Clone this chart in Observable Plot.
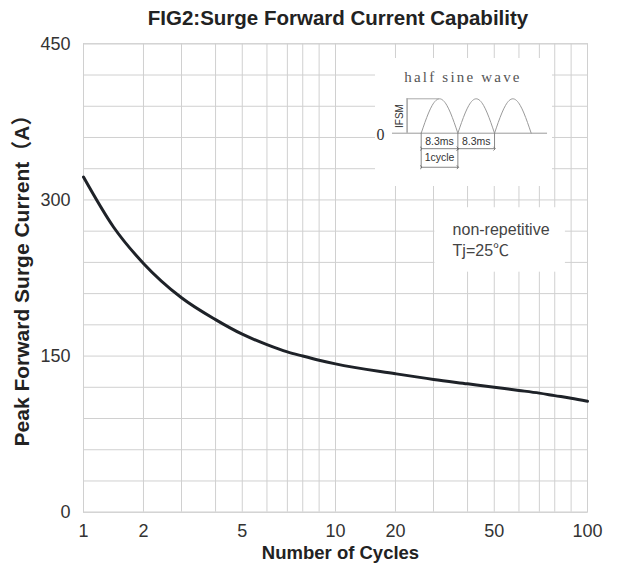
<!DOCTYPE html>
<html><head><meta charset="utf-8">
<script src="https://cdn.jsdelivr.net/npm/d3@7"></script>
<script src="https://cdn.jsdelivr.net/npm/@observablehq/plot@0.6"></script>
<style>
body{margin:0;background:#fff;}
#wrap{position:relative;width:626px;height:567px;font-family:"Liberation Sans",Arial,sans-serif;}
#title{height:34px;line-height:36px;font-size:20.5px;font-weight:bold;color:#222;text-align:center;padding-left:50px;box-sizing:border-box;white-space:nowrap;}
#inset{position:absolute;left:375px;top:58px;}
</style></head><body>
<div id="wrap"><div id="title"></div><div id="chart"></div><div id="inset"></div></div>
<script>
// ---- text ----
const titleText = "FIG2:Surge Forward Current Capability";
const xLabel = "Number of Cycles";
const yLabel = "Peak Forward Surge Current（A）";
const noteLines = ["non-repetitive", "Tj=25℃"];
const insetTitle = "half sine wave";

// ---- curve ----
const cycles  = [1, 1.5, 2, 3, 4, 5, 6, 7, 8, 9, 10, 20, 30, 40, 50, 60, 70, 80, 90, 100];
const current = [322, 274, 239, 206, 185, 171, 161, 154, 150, 146, 142.5, 133, 127.5, 123.3, 120, 117, 114.4, 112, 109.5, 106.6];

// ---- axes ----
const xTickLabels = [1, 2, 5, 10, 20, 50, 100];
const yTickLabels = [0, 150, 300, 450];
const xGrid = [1, 2, 3, 4, 5, 6, 7, 8, 9, 10, 20, 30, 40, 50, 60, 70, 80, 90, 100];
const yGrid = [0, 30, 60, 90, 120, 150, 180, 210, 240, 270, 300, 330, 360, 390, 420, 450];
// axis calibration of the original chart's cycle scale: where each grid value sits (fraction of axis length)
const xGridFrac = [0, 0.119, 0.1945, 0.262, 0.315, 0.364, 0.4045, 0.435, 0.4675, 0.5,
                   0.619, 0.6945, 0.762, 0.815, 0.864, 0.9045, 0.935, 0.9675, 1];

// ---- annotation box (data coords) ----
const noteBox = [{x1: 30.4, x2: 86.5, y1: 230.6, y2: 292.5}];
const noteX = 35.6;
const noteY = [271.3, 251.4];

// ---- inset diagram (ms / relative amplitude) ----
const halfPeriod = 8.3;
const sineFrac = [0, 0.1, 0.2, 0.3, 0.4, 0.5, 0.6, 0.7, 0.8, 0.9, 1];
const sineVal  = [0, 0.309, 0.588, 0.809, 0.951, 1, 0.951, 0.809, 0.588, 0.309, 0];
const archIndex = [0, 1, 2];
const dimLines = [
  {x1: 0, x2: 8.3, y: -0.45},
  {x1: 8.3, x2: 16.6, y: -0.45},
  {x1: 0, x2: 8.3, y: -0.99}
];
const dimLabels = [
  {x: 4.15, y: -0.24, t: "8.3ms"},
  {x: 12.45, y: -0.24, t: "8.3ms"},
  {x: 4.15, y: -0.71, t: "1cycle"}
];

document.getElementById("title").textContent = titleText;

const font = "'Liberation Sans', Arial, 'Noto Sans CJK SC', sans-serif";
const gridColor = "#d0d0d0";
const W = 626, H = 533;
const mL = 83, mR = 39, mT = 9.3, mB = 55.3;
const xRange = xGridFrac.map(f => mL + f * (W - mL - mR));
const curveData = cycles.map((c, i) => ({c, v: current[i]}));

const chart = Plot.plot({
  width: W, height: H,
  marginLeft: mL, marginRight: mR, marginTop: mT, marginBottom: mB,
  style: {fontFamily: font, fontSize: "18px", color: "#333", background: "#fff"},
  x: {type: "linear", domain: xGrid, range: xRange},
  y: {domain: [0, 450]},
  marks: [
    Plot.ruleX(xGrid, {stroke: gridColor, strokeWidth: 1}),
    Plot.ruleY(yGrid, {stroke: gridColor, strokeWidth: 1}),
    Plot.frame({stroke: gridColor}),
    Plot.rect(noteBox, {x1: "x1", x2: "x2", y1: "y1", y2: "y2", fill: "#fff"}),
    Plot.text(noteLines, {x: () => noteX, y: (d, i) => noteY[i], text: d => d, textAnchor: "start",
      fontSize: 16, fill: "#444"}),
    Plot.line(curveData, {x: "c", y: "v", curve: "monotone-x", stroke: "#1e2228", strokeWidth: 3}),
    Plot.axisX({ticks: xTickLabels, tickSize: 0, tickPadding: 12, label: null, fontSize: 18, fill: "#333"}),
    Plot.axisY({ticks: yTickLabels, tickSize: 0, tickPadding: 13, label: null, fontSize: 18, fill: "#333"}),
    Plot.text([xLabel], {frameAnchor: "bottom", lineAnchor: "middle", dx: 5, dy: 41.3, fontWeight: "bold", fontSize: 18.5, fill: "#222"}),
    Plot.text([yLabel], {frameAnchor: "left", textAnchor: "middle", lineAnchor: "middle", rotate: -90, dx: -61, dy: -2.5,
      fontWeight: "bold", fontSize: 21, fill: "#222"})
  ]
});
document.getElementById("chart").appendChild(chart);

// ---- inset ----
const arches = archIndex.flatMap(k => sineFrac.map((f, i) => ({k, t: (k + f) * halfPeriod, a: sineVal[i]})));
const inset = Plot.plot({
  width: 177, height: 128,
  marginLeft: 45.7, marginRight: 21.3, marginTop: 40.3, marginBottom: 53.3,
  style: {fontFamily: font, background: "#fff", color: "#333", overflow: "visible"},
  x: {domain: [0, 3 * halfPeriod]},
  y: {domain: [0, 1]},
  axis: null,
  marks: [
    Plot.ruleY([0], {x1: -6.5, x2: 28.6, stroke: "#9a9a9a"}),
    Plot.line(arches, {x: "t", y: "a", z: "k", curve: "natural", stroke: "#9a9a9a", strokeWidth: 1}),
    Plot.ruleX([-3.2], {y1: 0, y2: 1, stroke: "#777"}),
    Plot.ruleY([1], {x1: -3.2, x2: halfPeriod / 2, stroke: "#aaa"}),
    Plot.text(["IFSM"], {x: () => -4.9, y: () => 0.5, rotate: -90, fontSize: 10, fill: "#333"}),
    Plot.text(["0"], {x: () => -9.2, y: () => -0.05, fontSize: 16, fontFamily: "'Liberation Serif', serif", fill: "#333"}),
    Plot.text([insetTitle], {x: () => 9.46, y: () => 1.62, fontSize: 15, fontFamily: "'Liberation Serif', serif", fill: "#555"}),
    Plot.ruleX([0, halfPeriod], {y1: 0, y2: -1.03, stroke: "#888"}),
    Plot.ruleX([2 * halfPeriod], {y1: 0, y2: -0.47, stroke: "#888"}),
    Plot.link(dimLines, {x1: "x1", x2: "x2", y1: "y", y2: "y", markerStart: "arrow", markerEnd: "arrow", stroke: "#666", strokeWidth: 0.8}),
    Plot.text(dimLabels, {x: "x", y: "y", text: "t", fontSize: 10.5, fill: "#333"})
  ]
});
inset.querySelectorAll("text").forEach(t => {
  if (t.textContent === insetTitle) t.style.letterSpacing = "2.2px";
});
document.getElementById("inset").appendChild(inset);
</script>
</body></html>
